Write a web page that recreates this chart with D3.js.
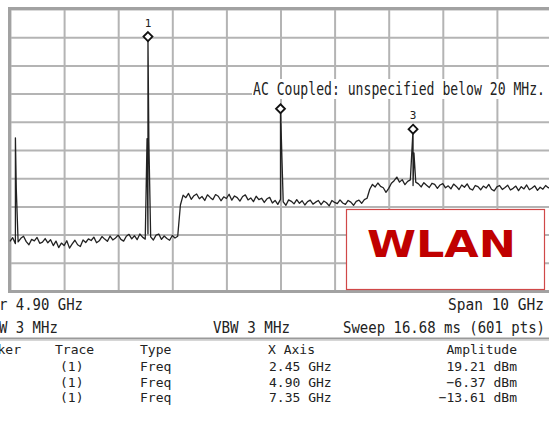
<!DOCTYPE html>
<html>
<head>
<meta charset="utf-8">
<script src="https://cdn.jsdelivr.net/npm/d3@7"></script>
<style>
  html, body { margin: 0; padding: 0; background: #fff; }
  svg { display: block; }
  .mono { font-family: "DejaVu Sans Mono", "Liberation Mono", monospace; fill: #222; }
</style>
</head>
<body>
<svg id="chart" width="549" height="426"></svg>
<script>
// Sweep: 601-point trace, shown here as a 50 MHz-spaced floor plus discrete spurs
const freqStartGHz = -0.1;
const freqStepGHz = 0.05;

// Noise floor readings (dBm), one per step from -0.10 GHz to 9.90 GHz
const floorDbm = [
  // -0.10 .. 3.00 GHz
  -53.4,-52.1,-54.2,-53.6,-52.3,-51.6,-53.5,-54.6,-52.7,-53.2,
  -52.0,-54.1,-53.7,-52.4,-53.9,-52.8,-54.9,-53.3,-55.6,-54.0,
  -54.9,-53.2,-55.8,-54.3,-53.0,-54.6,-55.2,-52.9,-53.8,-52.5,
  -53.1,-51.9,-53.9,-53.2,-51.7,-52.6,-53.4,-51.5,-52.9,-52.2,
  -51.2,-52.7,-53.3,-51.6,-50.9,-52.5,-51.4,-52.8,-50.8,-51.9,
  -52.6,-50.7,-51.8,-52.9,-51.2,-50.8,-52.7,-51.5,-52.4,-53.0,
  -51.3,-52.2,-51.6,
  // 3.05 .. 6.50 GHz
  -40.5,-37.0,-37.9,-36.4,-38.5,-37.2,-36.6,-38.3,-37.5,-38.9,
  -36.9,-37.8,-38.6,-36.8,-37.4,-39.0,-37.6,-38.2,-36.7,-38.8,
  -37.3,-37.9,-39.1,-37.5,-36.9,-38.7,-38.0,-39.3,-37.4,-38.6,
  -38.1,-39.6,-38.3,-37.8,-39.8,-38.9,-40.3,-38.5,-39.4,-40.6,
  -38.7,-39.2,-40.1,-38.6,-39.9,-39.0,-40.5,-39.3,-38.8,-40.2,
  -39.5,-38.9,-40.4,-39.1,-39.7,-40.8,-38.9,-39.6,-40.0,-38.7,
  -39.8,-40.3,-38.9,-39.5,-40.6,-39.2,-38.8,-39.9,-38.6,-38.1,
  // 6.55 .. 9.90 GHz
  -34.9,-33.2,-34.1,-32.7,-33.9,-34.4,-36.0,-34.6,-32.8,-31.9,
  -30.6,-32.4,-31.5,-33.3,-32.1,-31.6,-33.6,-32.4,-33.0,-34.1,
  -32.6,-33.5,-34.3,-32.8,-33.2,-34.6,-33.4,-32.9,-34.4,-33.7,
  -34.8,-33.1,-33.9,-35.0,-33.4,-34.2,-33.0,-34.7,-35.2,-33.6,
  -34.0,-35.1,-33.8,-34.5,-33.2,-34.9,-35.5,-34.1,-33.6,-35.0,
  -34.3,-33.5,-35.2,-34.6,-33.8,-35.4,-34.0,-34.8,-33.4,-35.1,
  -34.5,-33.7,-35.3,-34.2,-34.9,-33.6,-34.4,-34.1
];

// Markers (from the marker table)
const markerIds = [1, 2, 3];
const markerFreqGHz = [2.45, 4.90, 7.35];
const markerAmpDbm = [19.21, -6.37, -13.61];

// Other discrete spurs: LO feedthrough at 0 Hz and adjacent bins of the carriers
const spurFreqGHz = [0.0, 0.0167, 2.4333, 2.4667, 7.3667];
const spurAmpDbm = [-16.7, -35.0, -17.0, -18.0, -22.0];

// Graticule: 10 divisions each way
const xGridGHz = [-0.1, 0.9, 1.9, 2.9, 3.9, 4.9, 5.9, 6.9, 7.9, 8.9, 9.9];
const yGridDbm = [29, 19, 9, -1, -11, -21, -31, -41, -51, -61, -71];

// Instrument annotation text
const footerRow1 = ["Center 4.90 GHz", "Span 10 GHz"];
const footerRow2 = ["Res BW 3 MHz", "VBW 3 MHz", "Sweep 16.68 ms (601 pts)"];
const tableHeader = ["Marker", "Trace", "Type", "X Axis", "Amplitude"];
const tableTrace = ["(1)", "(1)", "(1)"];
const tableType = ["Freq", "Freq", "Freq"];
const tableX = ["2.45 GHz", "4.90 GHz", "7.35 GHz"];
const couplingNote = "AC Coupled: unspecified below 20 MHz.";
const bandLabel = "WLAN";

const svg = d3.select("#chart");
svg.append("rect").attr("width", 549).attr("height", 426).attr("fill", "#fff");

const plot = { left: 10, top: 9, right: 551, bottom: 291 };
const x = d3.scaleLinear().domain([-0.1, 9.9]).range([plot.left, plot.right]);
const y = d3.scaleLinear().domain([-71, 29]).range([plot.bottom, plot.top]);

// Grid lines via axes with full-length ticks
const gx = svg.append("g")
  .attr("transform", `translate(0,${plot.bottom})`)
  .call(d3.axisBottom(x).tickValues(xGridGHz).tickSize(-(plot.bottom - plot.top)).tickFormat(""));
const gy = svg.append("g")
  .attr("transform", `translate(${plot.left},0)`)
  .call(d3.axisLeft(y).tickValues(yGridDbm).tickSize(-(plot.right - plot.left)).tickFormat(""));
[gx, gy].forEach(g => {
  g.select(".domain").remove();
  g.selectAll(".tick line").attr("stroke", "#b4b4b4").attr("stroke-width", 2);
});

// Graticule frame
svg.append("rect")
  .attr("x", plot.left - 0.5).attr("y", plot.top - 0.5)
  .attr("width", plot.right - plot.left + 1).attr("height", plot.bottom - plot.top + 1)
  .attr("fill", "none").attr("stroke", "#a2a2a2").attr("stroke-width", 3);

// Build trace: floor points plus spur and marker bins, in frequency order
const tracePts = floorDbm.map((v, i) => ({ f: freqStartGHz + i * freqStepGHz, v }));
spurFreqGHz.forEach((f, i) => tracePts.push({ f, v: spurAmpDbm[i] }));
markerFreqGHz.forEach((f, i) => tracePts.push({ f, v: markerAmpDbm[i] }));
tracePts.sort((a, b) => a.f - b.f);

const line = d3.line().x(d => x(d.f)).y(d => y(d.v));
svg.append("path")
  .datum(tracePts)
  .attr("d", line)
  .attr("fill", "none")
  .attr("stroke", "#222")
  .attr("stroke-width", 1.3)
  .attr("stroke-linejoin", "round");

// Coupling note strip (white background behind the text)
const note = { x: 252, y: 79, w: 297, h: 20 };

// Marker diamonds and numbers (a number under the note strip stays hidden)
const mk = svg.append("g");
markerIds.forEach((id, i) => {
  const cx = x(markerFreqGHz[i]), cy = y(markerAmpDbm[i]);
  mk.append("path")
    .attr("d", `M${cx},${cy - 4.5}L${cx + 4.5},${cy}L${cx},${cy + 4.5}L${cx - 4.5},${cy}Z`)
    .attr("fill", "#fff").attr("stroke", "#111").attr("stroke-width", 1.8);
  const ly = cy - 10;
  const hidden = cx > note.x && ly > note.y && ly - 8 < note.y + note.h;
  if (!hidden) {
    mk.append("text")
      .attr("class", "mono")
      .attr("x", cx).attr("y", ly)
      .attr("text-anchor", "middle")
      .attr("font-size", 11)
      .text(id);
  }
});

svg.append("rect").attr("x", note.x).attr("y", note.y).attr("width", note.w).attr("height", note.h).attr("fill", "#fff");
svg.append("text")
  .attr("class", "mono")
  .attr("x", 253).attr("y", 95)
  .attr("font-size", 17.5)
  .attr("textLength", 292).attr("lengthAdjust", "spacingAndGlyphs")
  .text(couplingNote);

// WLAN band label box
svg.append("rect")
  .attr("x", 346.5).attr("y", 209.5).attr("width", 198).attr("height", 80)
  .attr("fill", "#fff").attr("stroke", "#d04848").attr("stroke-width", 1.2);
svg.append("text")
  .attr("x", 367).attr("y", 257)
  .attr("font-family", "'DejaVu Sans', Verdana, sans-serif")
  .attr("font-weight", "bold").attr("font-size", 37)
  .attr("fill", "#c00000")
  .attr("textLength", 149).attr("lengthAdjust", "spacingAndGlyphs")
  .text(bandLabel);

// Footer lines under the graticule
function monoText(str, x0, yb, size, len) {
  const t = svg.append("text").attr("class", "mono")
    .attr("x", x0).attr("y", yb).attr("font-size", size).text(str);
  if (len) t.attr("textLength", len).attr("lengthAdjust", "spacingAndGlyphs");
  return t;
}
monoText(footerRow1[0], -43, 310, 15.5, 15 * 8.4);
monoText(footerRow1[1], 448, 310, 15.5, 96);
monoText(footerRow2[0], -43, 333, 15.5, 12 * 8.4);
monoText(footerRow2[1], 213, 333, 15.5, 77);
monoText(footerRow2[2], 343, 333, 15.5, 202);

// Separator above the marker table
svg.append("line").attr("x1", 0).attr("x2", 549).attr("y1", 338.5).attr("y2", 338.5)
  .attr("stroke", "#9a9a9a").attr("stroke-width", 2);
svg.append("line").attr("x1", 0).attr("x2", 549).attr("y1", 340.5).attr("y2", 340.5)
  .attr("stroke", "#d6d6d6").attr("stroke-width", 1);

// Marker table
const colX = [-26, 55, 140, 268, 517];
const rowY = [354, 371, 387, 402];
tableHeader.forEach((h, j) => {
  svg.append("text").attr("class", "mono")
    .attr("x", colX[j]).attr("y", rowY[0]).attr("font-size", 13)
    .attr("text-anchor", j === 4 ? "end" : "start")
    .text(h);
});
markerIds.forEach((id, i) => {
  const yb = rowY[i + 1];
  const cells = [tableTrace[i], tableType[i], tableX[i], `${d3.format(".2f")(markerAmpDbm[i])} dBm`];
  const cx = [60, 140, 269, 517];
  cells.forEach((c, j) => {
    svg.append("text").attr("class", "mono")
      .attr("x", cx[j]).attr("y", yb).attr("font-size", 13)
      .attr("text-anchor", j === 3 ? "end" : "start")
      .text(c);
  });
});
</script>
</body>
</html>
